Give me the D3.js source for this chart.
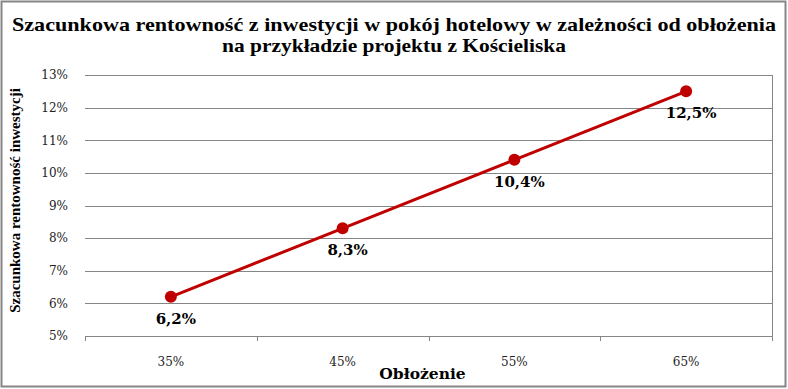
<!DOCTYPE html>
<html>
<head>
<meta charset="utf-8">
<script src="https://cdn.jsdelivr.net/npm/d3@7"></script>
<style>
  body { margin: 0; background: #fff; }
  svg { display: block; font-family: "DejaVu Serif", "Liberation Serif", serif; }
</style>
</head>
<body>
<div id="chart"></div>
<script>
// dane
const categories = ["35%", "45%", "55%", "65%"];
const values = [6.2, 8.3, 10.4, 12.5];
const valueLabels = ["6,2%", "8,3%", "10,4%", "12,5%"];
const yTicks = [5, 6, 7, 8, 9, 10, 11, 12, 13];

const W = 788, H = 389;
const margin = {top: 75, right: 16, bottom: 53, left: 85};
const width = W - margin.left - margin.right;
const height = H - margin.top - margin.bottom;

const root = d3.select("#chart").append("svg")
  .attr("width", W)
  .attr("height", H);

// ramka wykresu
root.append("rect")
  .attr("x", 1.5).attr("y", 1.5)
  .attr("width", W - 4).attr("height", H - 4)
  .attr("fill", "#fff")
  .attr("stroke", "#868686")
  .attr("stroke-width", 2);

// tytuł
const title = root.append("text")
  .attr("text-anchor", "middle")
  .style("font-family", "'Liberation Serif', serif")
  .style("font-weight", "bold")
  .style("font-size", "19px")
  .attr("fill", "#000");
title.append("tspan").attr("x", W / 2).attr("y", 31)
  .attr("textLength", 764).attr("lengthAdjust", "spacingAndGlyphs")
  .text("Szacunkowa rentowność z inwestycji w pokój hotelowy w zależności od obłożenia");
title.append("tspan").attr("x", W / 2).attr("y", 52)
  .attr("textLength", 344).attr("lengthAdjust", "spacingAndGlyphs")
  .text("na przykładzie projektu z Kościeliska");

const svg = root.append("g")
  .attr("transform", `translate(${margin.left},${margin.top})`);

// skale
const x = d3.scaleBand().domain(categories).range([0, width]);
const y = d3.scaleLinear().domain([5, 13]).range([height, 0]);

// linie siatki
svg.append("g")
  .selectAll("line")
  .data(yTicks)
  .join("line")
  .attr("x1", 0).attr("x2", width)
  .attr("y1", d => Math.round(y(d)) + 0.5)
  .attr("y2", d => Math.round(y(d)) + 0.5)
  .attr("stroke", "#868686");

// prawa krawędź
svg.append("line")
  .attr("x1", width + 0.5).attr("x2", width + 0.5)
  .attr("y1", 0).attr("y2", height + 5)
  .attr("stroke", "#868686");

// oś Y
const yAxis = svg.append("g")
  .call(d3.axisLeft(y).tickValues(yTicks).tickSize(0).tickPadding(17).tickFormat(d => d + "%"));
yAxis.select(".domain").remove();
yAxis.selectAll("text")
  .style("font-family", "'DejaVu Serif', serif")
  .style("font-size", "12px")
  .attr("fill", "#222");

// oś X
const xAxis = svg.append("g")
  .attr("transform", `translate(0,${Math.round(height) + 0.5})`)
  .call(d3.axisBottom(x).tickSize(0).tickPadding(21));
xAxis.select(".domain").attr("stroke", "#868686").attr("d", `M0,0H${width}`);
xAxis.selectAll("text")
  .style("font-family", "'DejaVu Serif', serif")
  .style("font-size", "12px")
  .attr("fill", "#222");

// znaczniki osi X na granicach kategorii
svg.append("g")
  .selectAll("line")
  .data(categories.concat([null]))
  .join("line")
  .attr("x1", (d, i) => Math.round(i * x.step()) + 0.5)
  .attr("x2", (d, i) => Math.round(i * x.step()) + 0.5)
  .attr("y1", height).attr("y2", height + 5)
  .attr("stroke", "#868686");

// tytuły osi
svg.append("text")
  .attr("x", width / 2 - 6)
  .attr("y", height + 43)
  .attr("text-anchor", "middle")
  .style("font-weight", "bold")
  .style("font-size", "15.5px")
  .style("font-family", "'DejaVu Serif', serif")
  .text("Obłożenie");

svg.append("text")
  .attr("transform", "rotate(-90)")
  .attr("x", -height / 2 + 5)
  .attr("y", -65)
  .attr("text-anchor", "middle")
  .style("font-weight", "bold")
  .style("font-size", "15px")
  .style("font-family", "'Liberation Serif', serif")
  .text("Szacunkowa rentowność inwestycji");

// linia danych
const data = categories.map((c, i) => ({c, v: values[i], label: valueLabels[i]}));
const line = d3.line()
  .x(d => x(d.c) + x.bandwidth() / 2)
  .y(d => y(d.v));

svg.append("path")
  .datum(data)
  .attr("d", line)
  .attr("fill", "none")
  .attr("stroke", "#C00000")
  .attr("stroke-width", 3);

svg.selectAll(".dot")
  .data(data)
  .join("circle")
  .attr("class", "dot")
  .attr("cx", d => x(d.c) + x.bandwidth() / 2)
  .attr("cy", d => y(d.v))
  .attr("r", 6)
  .attr("fill", "#C00000");

// etykiety wartości
svg.selectAll(".lbl")
  .data(data)
  .join("text")
  .attr("class", "lbl")
  .attr("x", d => x(d.c) + x.bandwidth() / 2 + 5)
  .attr("y", d => y(d.v) + 27)
  .attr("text-anchor", "middle")
  .style("font-weight", "bold")
  .style("font-size", "15px")
  .style("font-family", "'DejaVu Serif', serif")
  .text(d => d.label);
</script>
</body>
</html>
